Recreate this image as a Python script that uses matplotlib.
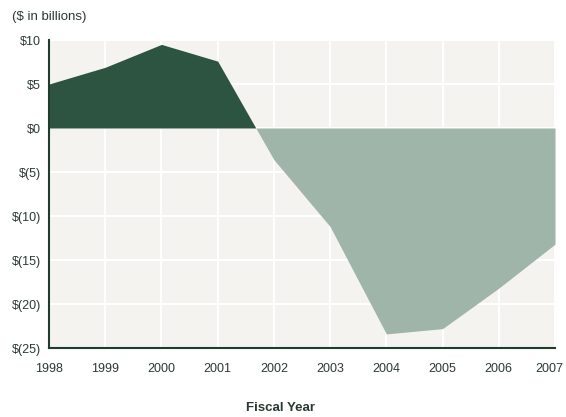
import matplotlib.pyplot as plt
import matplotlib.font_manager as fm
import matplotlib.transforms as mtransforms
import numpy as np

# 数据 (单位：十亿美元)
years = [1998, 1999, 2000, 2001, 2002, 2003, 2004, 2005, 2006, 2007]
values = [5.0, 6.9, 9.5, 7.6, -3.6, -11.2, -23.4, -22.8, -18.2, -13.2]
yticks = [10, 5, 0, -5, -10, -15, -20, -25]
ytick_labels = ['$10', '$5', '$0', '$(5)', '$(10)', '$(15)', '$(20)', '$(25)']

# 优先用窄体字，没有就用 Liberation Sans
names = {f.name for f in fm.fontManager.ttflist}
if 'Liberation Sans Narrow' in names:
    fam, fs = 'Liberation Sans Narrow', 10
else:
    fam, fs = 'Liberation Sans', 9
plt.rcParams['font.family'] = [fam, 'DejaVu Sans']

dark = '#2d5440'
light = '#9fb5a9'
bg = '#f4f3ef'
txt = '#2b3a31'

fig = plt.figure(figsize=(5.66, 4.17), dpi=100)
ax = fig.add_axes([49 / 566, 1 - 348 / 417, (555 - 49) / 566, (348 - 40) / 417])
ax.set_facecolor(bg)

x = np.array(years, dtype=float)
y = np.array(values)
ax.fill_between(x, y, 0, where=y >= 0, interpolate=True, color=dark, lw=0, zorder=2)
ax.fill_between(x, y, 0, where=y <= 0, interpolate=True, color=light, lw=0, zorder=2)

ax.set_xlim(1998, 2007)
ax.set_ylim(-25, 10)
ax.set_xticks(years)
ax.set_xticklabels([str(v) for v in years], fontsize=fs, color=txt)
ax.set_yticks(yticks)
ax.set_yticklabels(ytick_labels, fontsize=fs, color=txt)
ax.tick_params(length=0)
ax.tick_params(axis='x', pad=11)
ax.tick_params(axis='y', pad=6)
ax.grid(True, color='white', lw=1.5, zorder=1)
ax.set_axisbelow(True)

# 最后一个年份稍微左移，免得被裁掉
last = ax.get_xticklabels()[-1]
last.set_transform(last.get_transform() + mtransforms.ScaledTranslation(-6 / 100, 0, fig.dpi_scale_trans))

for s in ['top', 'right']:
    ax.spines[s].set_visible(False)
for s in ['left', 'bottom']:
    ax.spines[s].set_color('#1f3d2c')
    ax.spines[s].set_linewidth(1.5)

fig.text(12 / 566, 1 - 17 / 417, '($ in billions)', fontsize=fs + 0.5, color=txt, va='center')
fig.text(281 / 566, 1 - 408 / 417, 'Fiscal Year', fontsize=fs + 0.5, fontweight='bold',
         color=txt, ha='center', va='center')

fig.savefig('out.png', dpi=100, facecolor='white')
